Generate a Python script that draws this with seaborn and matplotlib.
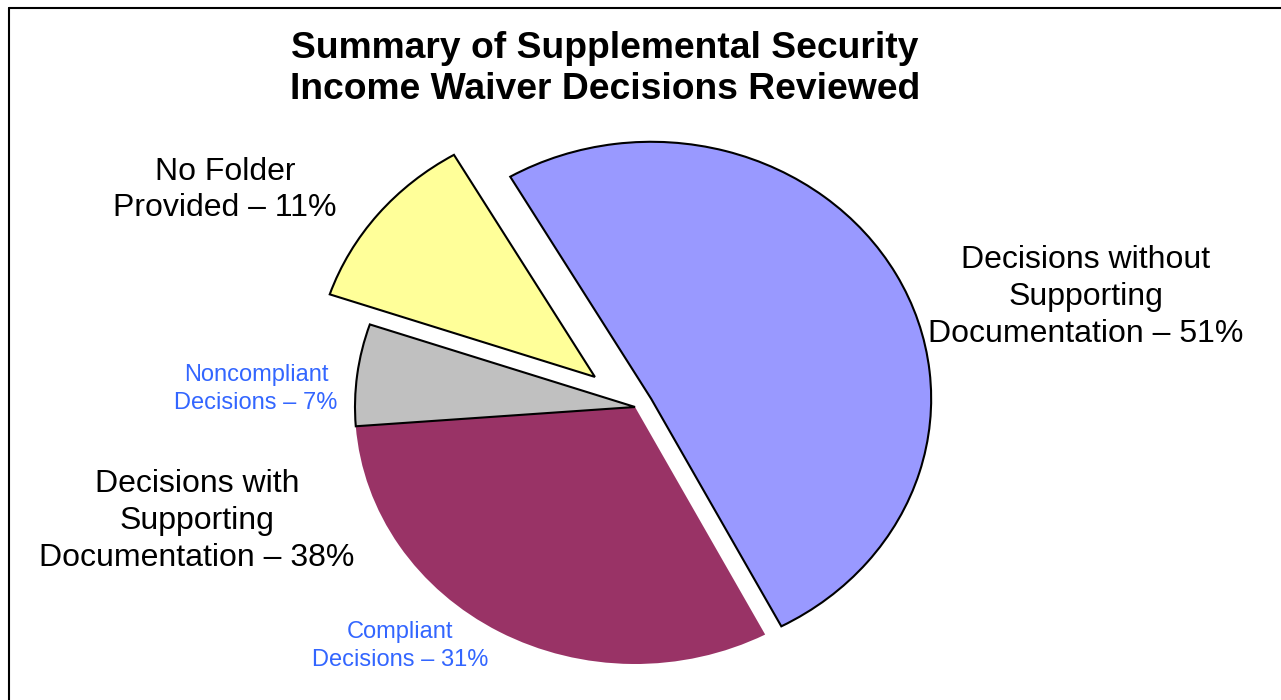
import matplotlib
matplotlib.use("Agg")
import matplotlib.pyplot as plt
import seaborn as sns
from matplotlib.lines import Line2D

# ---- data ----
categories = ["Decisions without Supporting Documentation", "No Folder Provided",
              "Noncompliant Decisions", "Compliant Decisions"]
values = [50.7, 11.4, 6.4, 31.5]
label_texts = ["Decisions without\nSupporting\nDocumentation \u2013 51%",
               "No Folder\nProvided \u2013 11%",
               "Noncompliant\nDecisions \u2013 7%",
               "Decisions with\nSupporting\nDocumentation \u2013 38%",
               "Compliant\nDecisions \u2013 31%"]
title = "Summary of Supplemental Security\nIncome Waiver Decisions Reviewed"

sns.set_theme(style="white")
plt.rcParams['font.family'] = ['Liberation Sans', 'DejaVu Sans']

colors = sns.color_palette(["#9999FF", "#FFFF99", "#C0C0C0", "#993366"])

fig = plt.figure(figsize=(12.81, 7.0), dpi=100)
W, H = 1281, 700
cx, cy = 635, 407          # pie centre in pixels (from top)
rx, ry = 280, 257          # pixel radii
left_px, right_px = 20, 1250
half_w = (right_px - left_px) / 2
bottom_from_bottom = (H - cy) - 283
ax = fig.add_axes([left_px / W, bottom_from_bottom / H, (right_px - left_px) / W, 566 / H])

wedges, _ = ax.pie(values, colors=colors, startangle=-62.3, counterclock=True,
                   explode=[0.066, 0.185, 0, 0],
                   wedgeprops=dict(edgecolor="black", linewidth=1.5))
wedges[3].set_linewidth(0)
wedges[3].set_edgecolor("none")
wedges[2].set_zorder(5)
ax.set_aspect('auto')
a = half_w / rx
b = 283 / ry
ax.set_xlim(-a, a)
ax.set_ylim(-b, b)
ax.axis('off')

def to_data(px, py):
    return (px - cx) / rx, (cy - py) / ry

big = 23
small = 17
blue_txt = "#3366FF"
positions = [(1086, 297), (225, 190), (256, 389), (197, 521), (400, 646)]
sizes = [big, big, small, big, small]
spacings = [1.3, 1.3, 1.4, 1.3, 1.4]
tcolors = ["black", "black", blue_txt, "black", blue_txt]
for txt, (px, py), fs, c, ls in zip(label_texts, positions, sizes, tcolors, spacings):
    x, y = to_data(px, py)
    ax.text(x, y, txt, ha="center", va="center", multialignment="center",
            fontsize=fs, color=c, clip_on=False, linespacing=ls)

fig.text(605 / W, 1 - 69 / H, title, ha="center", va="center", multialignment="center",
         fontsize=26.8, fontweight="bold", color="black")

# frame lines (top and left)
fig.add_artist(Line2D([9 / W, 1.01], [1 - 8 / H, 1 - 8 / H], color="black", linewidth=1.5,
                      transform=fig.transFigure))
fig.add_artist(Line2D([9 / W, 9 / W], [-0.01, 1 - 8 / H], color="black", linewidth=1.5,
                      transform=fig.transFigure))

fig.savefig("out.png", dpi=100, facecolor="white")
